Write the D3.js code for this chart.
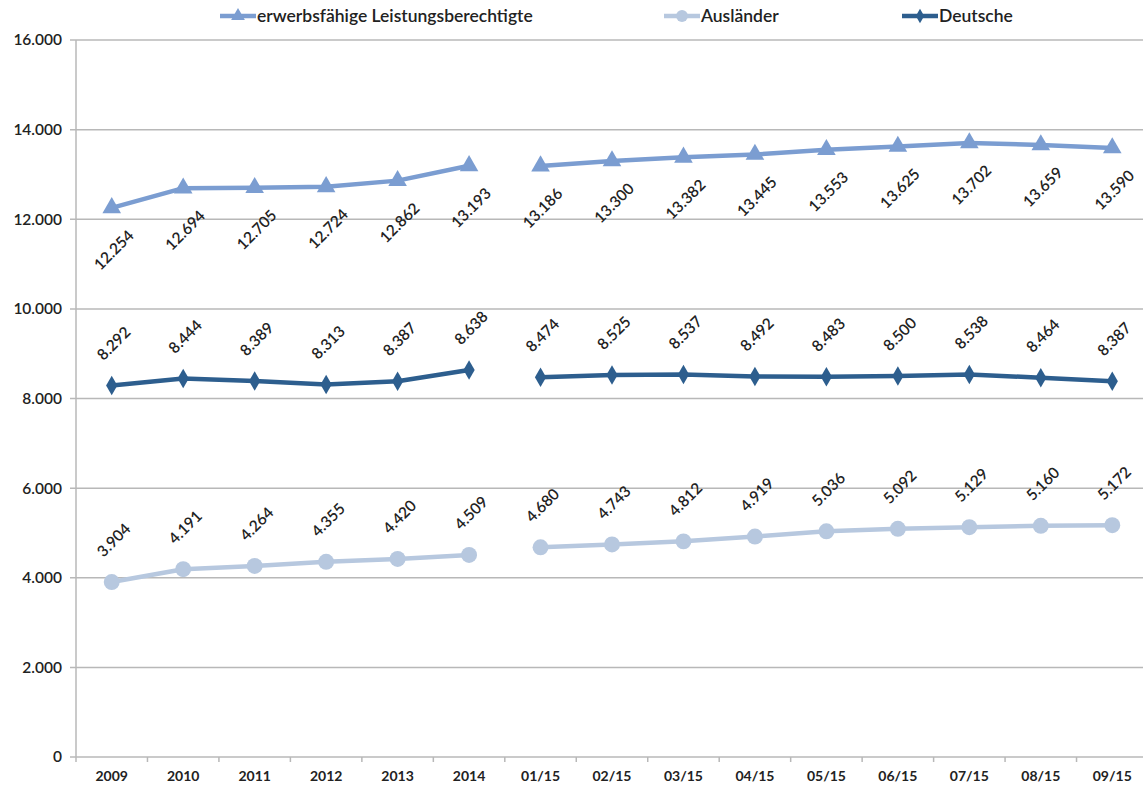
<!DOCTYPE html>
<html>
<head>
<meta charset="utf-8">
<script src="https://cdn.jsdelivr.net/npm/d3@7"></script>
<style>
  body { margin: 0; background: #fff; }
  text { font-family: Lato, "Open Sans", sans-serif; fill: #222; }
</style>
</head>
<body>
<div id="chart"></div>
<script>
var categories = ['2009', '2010', '2011', '2012', '2013', '2014',
    '01/15', '02/15', '03/15', '04/15', '05/15', '06/15', '07/15', '08/15', '09/15'];
var elb = [12254, 12694, 12705, 12724, 12862, 13193, 13186, 13300, 13382, 13445, 13553, 13625, 13702, 13659, 13590];
var auslaender = [3904, 4191, 4264, 4355, 4420, 4509, 4680, 4743, 4812, 4919, 5036, 5092, 5129, 5160, 5172];
var deutsche = [8292, 8444, 8389, 8313, 8387, 8638, 8474, 8525, 8537, 8492, 8483, 8500, 8538, 8464, 8387];
var yTicks = [0, 2000, 4000, 6000, 8000, 10000, 12000, 14000, 16000];
// line is interrupted after this category (years vs. months)
var breakAfter = '2014';

var width = 1143, height = 789;
var plotLeft = 76, plotRight = 1148, plotTop = 40, plotBottom = 757;

var de = d3.formatLocale({ decimal: ',', thousands: '.', grouping: [3], currency: ['', ' €'] });
var fmt = de.format(',');

var svg = d3.select('#chart').append('svg')
    .attr('width', width)
    .attr('height', height)
    .attr('viewBox', '0 0 ' + width + ' ' + height);

var x = d3.scaleBand().domain(categories).range([plotLeft, plotRight]);
var y = d3.scaleLinear().domain([0, 16000]).range([plotBottom, plotTop]);

// grid
svg.append('g').selectAll('line').data(yTicks).enter().append('line')
    .attr('x1', plotLeft - 6).attr('x2', plotRight)
    .attr('y1', function (d) { return y(d); }).attr('y2', function (d) { return y(d); })
    .attr('stroke', '#b8b8b8').attr('stroke-width', 1.5);

svg.append('line')
    .attr('x1', plotLeft).attr('x2', plotLeft).attr('y1', plotTop).attr('y2', plotBottom)
    .attr('stroke', '#b8b8b8').attr('stroke-width', 1.5);

// x tick marks at category boundaries
svg.append('g').selectAll('line').data(categories).enter().append('line')
    .attr('x1', function (d) { return x(d); }).attr('x2', function (d) { return x(d); })
    .attr('y1', plotBottom).attr('y2', plotBottom + 5)
    .attr('stroke', '#b8b8b8').attr('stroke-width', 1.5);

svg.append('g').selectAll('text').data(yTicks).enter().append('text')
    .attr('x', plotLeft - 14)
    .attr('y', function (d) { return y(d); })
    .attr('dy', '0.35em')
    .attr('text-anchor', 'end')
    .style('font-size', '15.5px')
    .style('font-weight', 600)
    .text(function (d) { return fmt(d); });

svg.append('g').selectAll('text').data(categories).enter().append('text')
    .attr('x', function (d) { return x(d) + x.bandwidth() / 2; })
    .attr('y', plotBottom + 24)
    .attr('text-anchor', 'middle')
    .style('font-size', '14px')
    .style('font-weight', 700)
    .text(function (d) { return d; });

var series = [
    { name: 'erwerbsfähige Leistungsberechtigte', values: elb, color: '#7b9dd1', symbol: d3.symbolTriangle, size: 150, label: 1 },
    { name: 'Ausländer', values: auslaender, color: '#b7c8df', symbol: d3.symbolCircle, size: 200, label: -1 },
    { name: 'Deutsche', values: deutsche, color: '#2d5e8e', symbol: d3.symbolDiamond, size: 110, label: -1 }
];

var cut = categories.indexOf(breakAfter) + 1;
var line = d3.line()
    .x(function (d) { return x(d.cat) + x.bandwidth() / 2; })
    .y(function (d) { return y(d.v); });

series.forEach(function (s) {
    var pts = s.values.map(function (v, i) { return { cat: categories[i], v: v }; });
    var g = svg.append('g');
    [pts.slice(0, cut), pts.slice(cut)].forEach(function (seg) {
        g.append('path').attr('d', line(seg))
            .attr('fill', 'none').attr('stroke', s.color)
            .attr('stroke-width', 4.5).attr('stroke-linejoin', 'round');
    });
    g.selectAll('path.m').data(pts).enter().append('path')
        .attr('class', 'm')
        .attr('d', d3.symbol().type(s.symbol).size(s.size))
        .attr('transform', function (d) {
            return 'translate(' + (x(d.cat) + x.bandwidth() / 2) + ',' + y(d.v) + ')';
        })
        .attr('fill', s.color);
    g.selectAll('text').data(pts).enter().append('text')
        .attr('transform', function (d) {
            var cx = x(d.cat) + x.bandwidth() / 2 + 2;
            var cy = y(d.v) + s.label * 42;
            return 'translate(' + cx + ',' + cy + ') rotate(-45)';
        })
        .attr('text-anchor', 'middle')
        .attr('dy', '0.35em')
        .style('font-size', '15.5px')
        .style('font-weight', 600)
        .text(function (d) { return fmt(d.v); });
});

// legend
var legendX = [220, 664, 902];
series.forEach(function (s, i) {
    var lg = svg.append('g').attr('transform', 'translate(' + legendX[i] + ',16)');
    lg.append('line').attr('x1', 0).attr('x2', 36).attr('stroke', s.color).attr('stroke-width', 4.5);
    lg.append('path').attr('d', d3.symbol().type(s.symbol).size(s.size * 0.55))
        .attr('transform', 'translate(18,0)').attr('fill', s.color);
    lg.append('text').attr('x', 37).attr('dy', '0.35em')
        .style('font-size', '17.5px')
        .style('font-weight', 600)
        .text(s.name);
});
</script>
</body>
</html>
